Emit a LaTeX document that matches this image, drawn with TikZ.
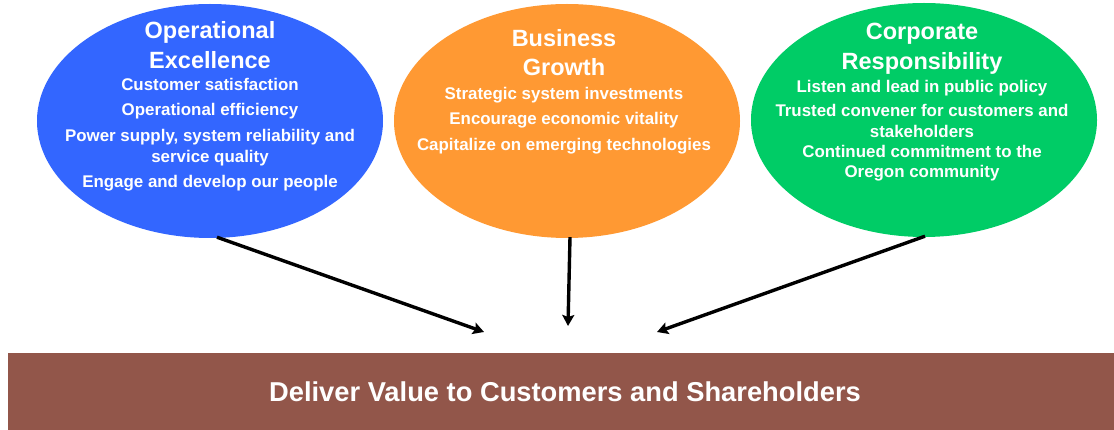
\documentclass[tikz,border=0pt]{standalone}
\usepackage{fontspec}
\setmainfont{Liberation Sans}
\usetikzlibrary{shapes.geometric,arrows.meta,calc}
\definecolor{opblue}{RGB}{51,102,255}
\definecolor{bgorange}{RGB}{255,153,51}
\definecolor{crgreen}{RGB}{0,204,102}
\definecolor{barbrown}{RGB}{146,86,74}
\begin{document}
\begin{tikzpicture}[x=1pt,y=-1pt,
  ell/.style={ellipse, inner sep=0pt, minimum width=346pt, minimum height=234pt},
  ttl/.style={text=white, font=\fontsize{23.5}{26}\selectfont\bfseries, anchor=base, inner sep=0pt},
  itm/.style={text=white, font=\fontsize{16.9}{19}\selectfont\bfseries, anchor=base, inner sep=0pt},
  bartxt/.style={text=white, font=\fontsize{27.3}{30}\selectfont\bfseries, anchor=base, inner sep=0pt},
  arr/.style={-{Stealth[length=11pt,width=12pt,inset=2pt]}, line width=3.4pt, black}]
\useasboundingbox (0,0) rectangle (1114,430);

% ellipses
\node[ell, fill=opblue] (ox) at (210,121) {};
\node[ell, fill=bgorange] (bg) at (567,121) {};
\node[ell, fill=crgreen] (cr) at (924,120) {};

% bottom bar
\node[fill=barbrown, minimum width=1106pt, minimum height=77pt, anchor=north west, inner sep=0pt] (bar) at (8,353) {};
\node[bartxt] (bartext) at (565,401.5) {Deliver Value to Customers and Shareholders};

% operational excellence text
\node[ttl] (ox1) at (210,38.5) {Operational};
\node[ttl] (ox2) at (210,68.5) {Excellence};
\node[itm] (ox3) at (210,91) {Customer satisfaction};
\node[itm] (ox4) at (210,116) {Operational efficiency};
\node[itm] (ox5) at (210,142) {Power supply, system reliability and};
\node[itm] (ox6) at (210,163) {service quality};
\node[itm] (ox7) at (210,188) {Engage and develop our people};

% business growth text
\node[ttl] (bg1) at (564,46.5) {Business};
\node[ttl] (bg2) at (564,75.5) {Growth};
\node[itm] (bg3) at (564,100) {Strategic system investments};
\node[itm] (bg4) at (564,125) {Encourage economic vitality};
\node[itm] (bg5) at (564,151) {Capitalize on emerging technologies};

% corporate responsibility text
\node[ttl] (cr1) at (922,39.5) {Corporate};
\node[ttl] (cr2) at (922,69.5) {Responsibility};
\node[itm] (cr3) at (922,93) {Listen and lead in public policy};
\node[itm] (cr4) at (922,117) {Trusted convener for customers and};
\node[itm] (cr5) at (922,138) {stakeholders};
\node[itm] (cr6) at (922,158) {Continued commitment to the};
\node[itm] (cr7) at (922,178) {Oregon community};

% arrow tips
\coordinate (t1) at (484,332);
\coordinate (t2) at (568,326);
\coordinate (t3) at (657,332);

\draw[arr] ($(ox.south)+(7,-1)$) -- (t1);
\draw[arr] ($(bg.south)+(3,-1)$) -- (t2);
\draw[arr] ($(cr.south)+(1,-1)$) -- (t3);
\end{tikzpicture}
\end{document}
